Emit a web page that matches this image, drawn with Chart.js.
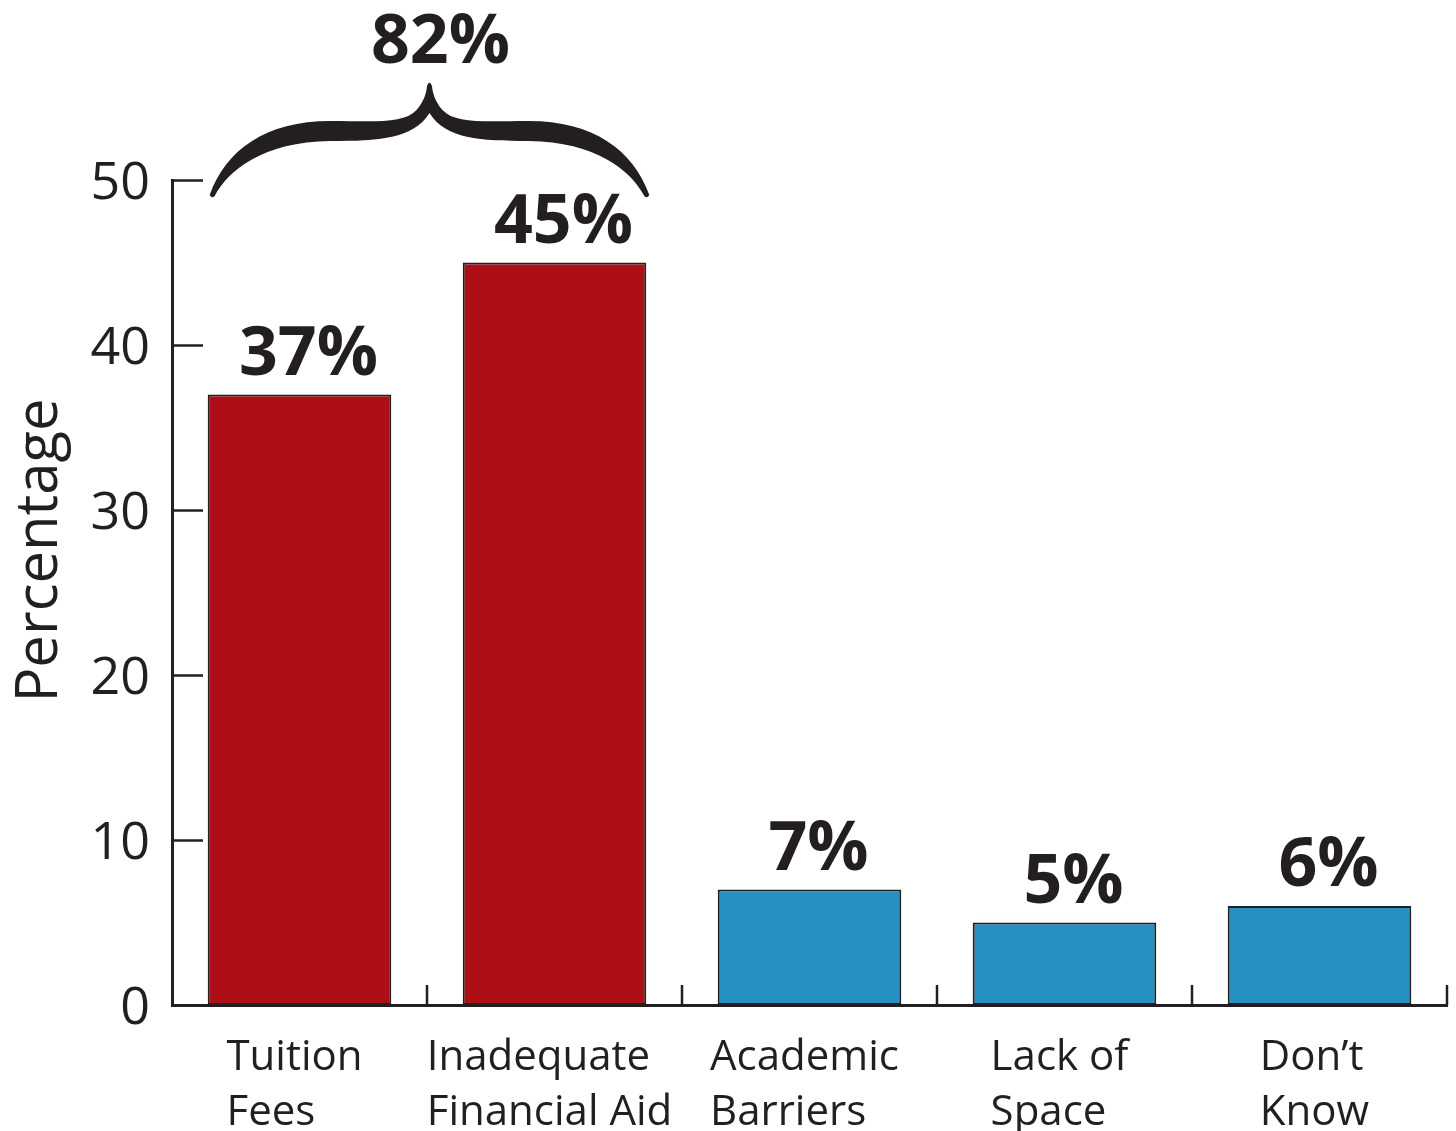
<!DOCTYPE html>
<html>
<head>
<meta charset="utf-8">
<script src="https://cdn.jsdelivr.net/npm/chart.js@4.4.0/dist/chart.umd.min.js"></script>
<style>
  html, body { margin: 0; padding: 0; background: #ffffff; }
  #wrap { width: 1456px; height: 1131px; }
</style>
</head>
<body>
<div id="wrap"><canvas id="c" width="1456" height="1131"></canvas></div>
<script>
const categories = [['Tuition', 'Fees'], ['Inadequate', 'Financial Aid'], ['Academic', 'Barriers'], ['Lack of', 'Space'], ['Don\u2019t', 'Know']];
const values = [37, 45, 7, 5, 6];
const barColors = ['#ae0e16', '#ae0e16', '#2590c1', '#2590c1', '#2590c1'];
const yTicks = [0, 10, 20, 30, 40, 50];
const yTitle = 'Percentage';
const bracedBars = [0, 1];

const INK = '#231f20';
const FONT = '"Open Sans", "Noto Sans", sans-serif';

const valueLabels = values.map(v => v + '%');
const braceTotal = bracedBars.reduce((s, i) => s + values[i], 0) + '%';

const decorPlugin = {
  id: 'decor',
  afterDraw(chart) {
    const ctx = chart.ctx;
    const area = chart.chartArea;
    const xs = chart.scales.x;
    const ys = chart.scales.y;
    const meta = chart.getDatasetMeta(0);
    ctx.save();
    ctx.strokeStyle = INK;
    ctx.fillStyle = INK;

    // inward y ticks
    ctx.lineWidth = 2.5;
    yTicks.forEach(v => {
      if (v === 0) return;
      const y = Math.round(ys.getPixelForValue(v)) + 0.5;
      ctx.beginPath();
      ctx.moveTo(area.left, y);
      ctx.lineTo(area.left + 31, y);
      ctx.stroke();
    });
    // inward x ticks at category boundaries
    const n = categories.length;
    const step = xs.getPixelForValue(1) - xs.getPixelForValue(0);
    for (let i = 1; i <= n; i++) {
      const x = Math.round(xs.getPixelForValue(i - 1) + step / 2);
      ctx.beginPath();
      ctx.moveTo(x, area.bottom);
      ctx.lineTo(x, area.bottom - 20);
      ctx.stroke();
    }

    // x category labels (left-aligned block, centered on category)
    ctx.font = '42px ' + FONT;
    ctx.textBaseline = 'alphabetic';
    ctx.textAlign = 'left';
    categories.forEach((lines, i) => {
      const cx = xs.getPixelForValue(i);
      const w = Math.max(...lines.map(l => ctx.measureText(l).width));
      const left = cx - w / 2 - 5;
      lines.forEach((l, k) => {
        ctx.fillText(l, left, area.bottom + 65 + k * 55);
      });
    });

    // y title
    ctx.save();
    ctx.font = '58px ' + FONT;
    ctx.textAlign = 'center';
    ctx.textBaseline = 'alphabetic';
    ctx.translate(57, (ys.getPixelForValue(0) + ys.getPixelForValue(50)) / 2 - 42);
    ctx.rotate(-Math.PI / 2);
    ctx.fillText(yTitle, 0, 0);
    ctx.restore();

    // value labels
    ctx.font = 'bold 68px ' + FONT;
    ctx.textAlign = 'center';
    ctx.textBaseline = 'alphabetic';
    meta.data.forEach((el, i) => {
      ctx.fillText(valueLabels[i], el.x + 9, el.y - 20);
    });

    // brace over grouped bars
    const b0 = meta.data[bracedBars[0]];
    const b1 = meta.data[bracedBars[bracedBars.length - 1]];
    const x0 = b0.x - b0.width / 2;
    const x1 = b1.x + b1.width / 2;
    const X = x => x0 + (x - 207) * (x1 - x0) / (646 - 207);
    const Y = y => area.top + (y - 180);
    ctx.beginPath();
    ctx.moveTo(X(209), Y(195));
    ctx.bezierCurveTo(X(225), Y(150), X(265), Y(121), X(330), Y(121));
    ctx.bezierCurveTo(X(375), Y(121), X(403), Y(124), X(416), Y(110));
    ctx.bezierCurveTo(X(424), Y(101), X(426), Y(92), X(426.5), Y(86));
    ctx.quadraticCurveTo(X(429), Y(79), X(431.5), Y(86));
    ctx.bezierCurveTo(X(432), Y(92), X(434), Y(101), X(442), Y(110));
    ctx.bezierCurveTo(X(455), Y(124), X(483), Y(121), X(528), Y(121));
    ctx.bezierCurveTo(X(593), Y(121), X(633), Y(150), X(649), Y(195));
    ctx.quadraticCurveTo(X(647), Y(199), X(644), Y(196));
    ctx.bezierCurveTo(X(630), Y(170), X(596), Y(142), X(528), Y(141));
    ctx.bezierCurveTo(X(480), Y(141), X(445), Y(139), X(429), Y(113));
    ctx.bezierCurveTo(X(413), Y(139), X(378), Y(141), X(330), Y(141));
    ctx.bezierCurveTo(X(262), Y(142), X(228), Y(170), X(214), Y(196));
    ctx.quadraticCurveTo(X(211), Y(199), X(209), Y(195));
    ctx.closePath();
    ctx.fill();

    ctx.font = 'bold 68px ' + FONT;
    ctx.textAlign = 'center';
    ctx.fillText(braceTotal, X(440), Y(63));
    ctx.restore();
  }
};

new Chart(document.getElementById('c'), {
  type: 'bar',
  data: {
    labels: categories,
    datasets: [{
      data: values,
      backgroundColor: barColors,
      borderColor: INK,
      borderWidth: 2,
      borderSkipped: false,
      categoryPercentage: 1.0,
      barPercentage: 0.72
    }]
  },
  options: {
    responsive: false,
    animation: false,
    devicePixelRatio: 1,
    layout: { padding: { top: 180, right: 9, left: 0, bottom: 0 } },
    plugins: { legend: { display: false }, tooltip: { enabled: false } },
    scales: {
      x: {
        ticks: { display: false },
        grid: { display: false, drawTicks: false },
        border: { display: true, color: INK, width: 3 },
        afterFit(scale) { scale.height = 126; }
      },
      y: {
        min: 0,
        max: 50,
        afterBuildTicks(scale) { scale.ticks = yTicks.map(v => ({ value: v })); },
        ticks: {
          padding: 22,
          labelOffset: 4,
          color: INK,
          font: { family: FONT, size: 52 },
          callback: v => String(v)
        },
        grid: { display: false, drawTicks: false },
        border: { display: true, color: INK, width: 3 },
        afterFit(scale) { scale.width = 172; }
      }
    }
  },
  plugins: [decorPlugin]
});
</script>
</body>
</html>
